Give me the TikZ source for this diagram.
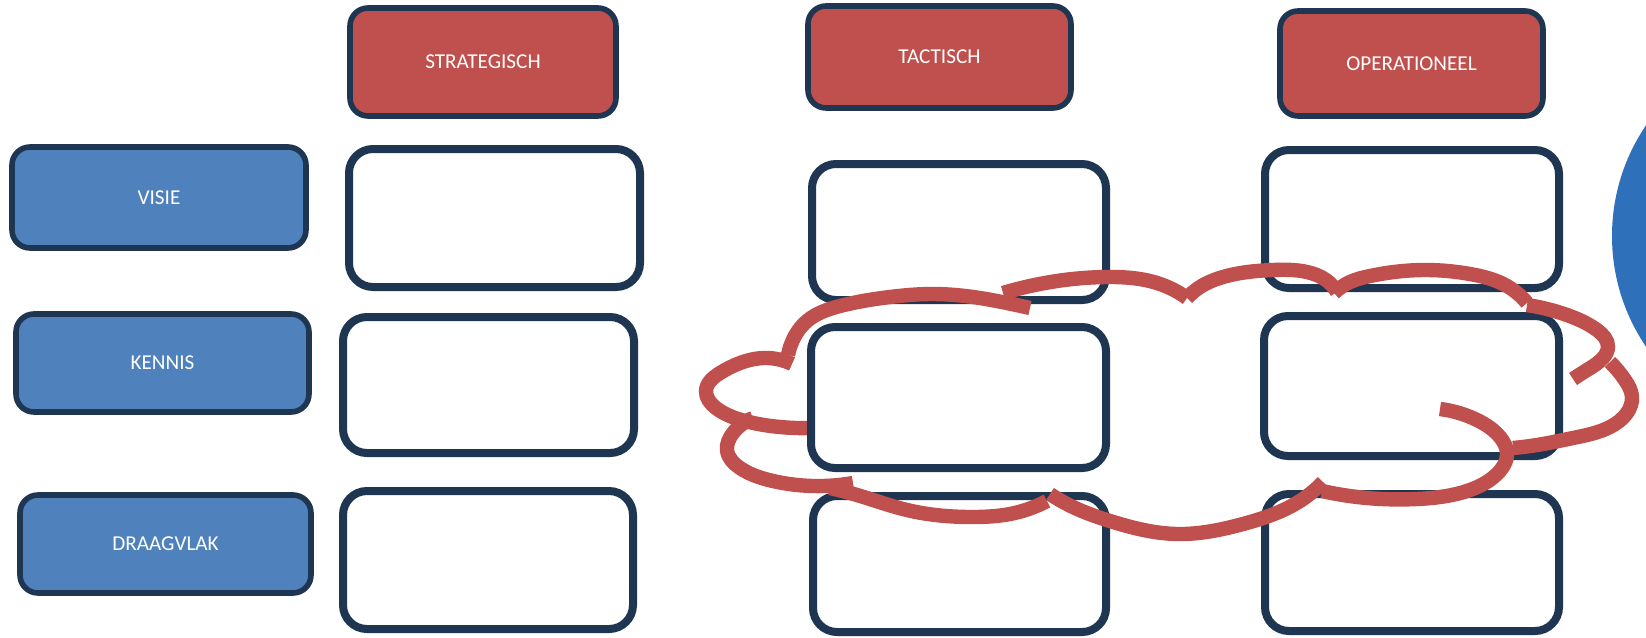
\documentclass[tikz,border=0pt]{standalone}
\usepackage{fontspec}
\setmainfont{Carlito}
\usetikzlibrary{hobby}
\definecolor{hdrred}{RGB}{192,80,77}
\definecolor{lblblue}{RGB}{79,129,189}
\definecolor{navy}{RGB}{31,54,82}
\definecolor{circblue}{RGB}{47,112,186}
\begin{document}
\begin{tikzpicture}[x=0.5pt,y=-0.5pt,
  basebox/.style={draw=navy,inner sep=0pt,outer sep=0pt,text=white,
    font=\fontsize{10.6}{12}\selectfont},
  hdr/.style={basebox,fill=hdrred,line width=2.8pt,rounded corners=9pt},
  lbl/.style={basebox,fill=lblblue,line width=2.8pt,rounded corners=9pt},
  cell/.style={basebox,fill=white,line width=4pt,rounded corners=12pt},
  cloudline/.style={draw=hdrred,line width=7.2pt,use Hobby shortcut}]
\useasboundingbox (0,0) rectangle (1646,638);
\clip (0,0) rectangle (1646,638);
\fill[white] (0,0) rectangle (1646,638);
% partial circle at the right edge
\fill[circblue] (1809,236) circle[radius=197];
% header boxes
\node[hdr,minimum width=133pt,minimum height=54pt] (strat) at (483,62) {STRATEGISCH};
\node[hdr,minimum width=131.5pt,minimum height=51pt] (tact) at (939.5,57) {TACTISCH};
\node[hdr,minimum width=131.5pt,minimum height=52.5pt] (oper) at (1411.5,63.5) {OPERATIONEEL};
% row labels
\node[lbl,minimum width=147pt,minimum height=50.5pt] (visie) at (159,197.5) {VISIE};
\node[lbl,minimum width=146.5pt,minimum height=49pt] (kennis) at (162.5,363) {KENNIS};
\node[lbl,minimum width=145.5pt,minimum height=49pt] (draag) at (165.5,544) {DRAAGVLAK};
% cells
\node[cell,minimum width=145.5pt,minimum height=69pt] (s1) at (494.5,218) {};
\node[cell,minimum width=145.5pt,minimum height=68pt] (s2) at (488.5,385) {};
\node[cell,minimum width=145pt,minimum height=69pt] (s3) at (488,560) {};
\node[cell,minimum width=147pt,minimum height=68pt] (t1) at (959,232) {};
\node[cell,minimum width=146.5pt,minimum height=68pt] (t3) at (959.5,564) {};
\node[cell,minimum width=147pt,minimum height=69pt] (o1) at (1412,219) {};
\node[cell,minimum width=147.5pt,minimum height=70pt] (o2) at (1411.5,386) {};
\node[cell,minimum width=147pt,minimum height=68.5pt] (o3) at (1412,562.5) {};
% cloud
\draw[cloudline] (792,364) .. (767,358) .. (740,363) .. (720,373) .. (706,391) .. (716,408) .. (745,421) .. (780,427) .. (812,428);
\draw[cloudline] (753,418) .. (733,433) .. (727,450) .. (740,468) .. (773,481) .. (823,486) .. (853,483);
\draw[cloudline] (830,488) .. (857,495) .. (907,510) .. (973,517) .. (1010,514) .. (1047,501);
\draw[cloudline] (1050,494) .. (1075,508) .. (1110,521) .. (1177,534) .. (1243,524) .. (1300,501) .. (1323,482);
\draw[cloudline] (1322,491) .. (1367,498) .. (1417,499) .. (1467,491) .. (1497,474) .. (1507,453) .. (1500,437) .. (1477,420) .. (1440,409);
\draw[cloudline] (1513,448) .. (1537,445) .. (1573,438) .. (1610,427) .. (1627,413) .. (1632,397) .. (1625,380) .. (1610,362);
\draw[cloudline] (1527,305) .. (1567,315) .. (1597,330) .. (1608,347) .. (1603,358) .. (1587,370) .. (1573,379);
\draw[cloudline] (1334,293) .. (1350,282) .. (1370,276) .. (1427,270) .. (1470,274) .. (1507,286) .. (1527,303);
\draw[cloudline] (1187,298) .. (1200,287) .. (1223,277) .. (1273,270) .. (1307,272) .. (1326,280) .. (1337,292);
\draw[cloudline] (1003,293) .. (1030,286) .. (1057,281) .. (1107,277) .. (1157,283) .. (1187,298);
\draw[cloudline] (788,355) .. (792,342) .. (807,321) .. (840,306) .. (890,297) .. (930,294) .. (973,297) .. (1007,303) .. (1030,308);
% the middle cell lies over the cloud
\node[cell,minimum width=147.5pt,minimum height=70.5pt] (t2) at (958.5,397.5) {};
\end{tikzpicture}
\end{document}
